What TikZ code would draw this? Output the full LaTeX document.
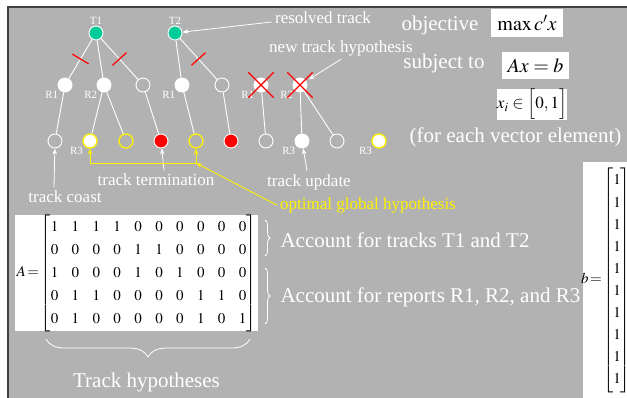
\documentclass[tikz,border=0pt]{standalone}
\usepackage{amsmath}
\usepackage{mathptmx}
\usepackage{fontspec}
\setmainfont{Liberation Serif}
\usetikzlibrary{arrows.meta,shapes.misc,decorations.pathreplacing}
\definecolor{slide}{RGB}{178,178,178}
\definecolor{trackgreen}{RGB}{0,204,153}
\tikzset{
  hyp/.style={circle,draw=white,line width=0.9pt,minimum size=14pt,inner sep=0pt},
  full/.style={hyp,fill=white},
  trk/.style={hyp,fill=trackgreen},
  term/.style={hyp,fill=red},
  best/.style={hyp,draw=yellow,line width=1.3pt},
  tag/.style={text=white,font=\fontsize{11}{11}\selectfont,inner sep=1pt},
  note/.style={text=white,font=\fontsize{17}{17}\selectfont},
  big/.style={text=white,font=\fontsize{21}{21}\selectfont},
  link/.style={white,line width=0.9pt},
  slash/.style={sloped,draw=red,line width=1.2pt,rectangle,minimum width=0pt,minimum height=19pt,inner sep=0pt},
  veto/.style={cross out,draw=red,line width=1.3pt,minimum size=24pt,inner sep=0pt},
  pointer/.style={white,line width=0.8pt,-{Stealth[length=6pt,width=4.5pt]}},
  goal/.style={yellow,line width=0.9pt},
  mathbox/.style={fill=white,text=black,inner sep=0pt},
  curly/.style={decorate,decoration={brace,amplitude=5pt},white,line width=0.8pt}
}
\begin{document}
\begin{tikzpicture}[x=1pt,y=-1pt]
  \useasboundingbox (0,0) rectangle (627,398);
  \fill[slide] (7,6) rectangle (627,398);
  \draw[black!75,line width=2pt] (8,398) -- (8,7) -- (627,7);

  \node[trk,label={[tag]above:T1}] (t1) at (96,33) {};
  \node[trk,label={[tag]above:T2}] (t2) at (175,33) {};

  \node[full,label={[tag]220:R1}] (r1a) at (65,85) {};
  \node[full,label={[tag]220:R2}] (r2a) at (104,85) {};
  \node[hyp] (ea) at (143,85) {};
  \node[full,label={[tag]220:R1}] (r1b) at (182,85) {};
  \node[hyp] (eb) at (222,85) {};
  \node[full,label={[tag]220:R1}] (r1c) at (261,85) {};
  \node[full,label={[tag]220:R2}] (r2c) at (300,85) {};
  \node[veto] (x1) at (r1c) {};
  \node[veto] (x2) at (r2c) {};

  \node[hyp] (h1) at (55,141) {};
  \node[best,fill=white,label={[tag]220:R3}] (h2) at (90,141) {};
  \node[best] (h3) at (126,141) {};
  \node[term] (h4) at (161,141) {};
  \node[best] (h5) at (196,141) {};
  \node[term] (h6) at (231,141) {};
  \node[hyp] (h7) at (266,141) {};
  \node[full,label={[tag]220:R3}] (h8) at (302,141) {};
  \node[hyp] (h9) at (337,141) {};
  \node[best,fill=white,label={[tag]220:R3}] (h10) at (379,141) {};

  \draw[link] (t1) -- node[slash] (s1) {} (r1a);
  \draw[link] (t1) -- (r2a);
  \draw[link] (t1) -- node[slash] (s2) {} (ea);
  \draw[link] (t2) -- (r1b);
  \draw[link] (t2) -- node[slash] (s3) {} (eb);
  \draw[link] (r1a) -- (h1);
  \draw[link] (r2a) -- (h2);
  \draw[link] (r2a) -- (h3);
  \draw[link] (ea) -- (h4);
  \draw[link] (r1b) -- (h5);
  \draw[link] (eb) -- (h6);
  \draw[link] (r1c) -- (h7);
  \draw[link] (r2c) -- (h8);
  \draw[link] (r2c) -- (h9);

  \node[note] (resolved) at (323,18) {resolved track};
  \node[note] (newhyp) at (341,48) {new track hypothesis};
  \node[note] (coast) at (65,197) {track coast};
  \node[note] (termination) at (156,180) {track termination};
  \node[note] (update) at (309,182) {track update};
  \node[note,text=yellow] (optimal) at (368,205) {optimal global hypothesis};

  \draw[pointer] ([yshift=-4pt]resolved.west) -- (t2);
  \draw[pointer,shorten >=3pt] (newhyp.south) -- (r2c);
  \draw[pointer] ([xshift=-11pt]coast.north) -- (h1);
  \draw[pointer] ([xshift=8pt]termination.north) -- (h4);
  \draw[pointer] ([xshift=-2pt]update.north) -- (h8);

  \coordinate (fork) at (196,163);
  \draw[goal,{Stealth[length=6pt,width=4.5pt]}-{Stealth[length=6pt,width=4.5pt]}] (h2) |- (fork) -- (h5);
  \draw[goal,-{Stealth[length=6pt,width=4.5pt]}] (optimal.west) -- (fork);

  \node[big] (objective) at (440,25) {objective};
  \node[mathbox,minimum width=72pt,minimum height=28pt] (maxbox) at (527,23)
    {\fontsize{20}{20}\selectfont$\max c'x$};
  \node[big] (subject) at (444,63) {subject to};
  \node[mathbox,minimum width=67pt,minimum height=27pt] (axbbox) at (535.5,65.5)
    {\fontsize{20}{20}\selectfont$Ax=b$};
  \node[mathbox,minimum width=60pt,minimum height=29pt] (xibox) at (532,104.5)
    {\fontsize{17}{17}\selectfont$x_i\in\Bigl[0,1\Bigr]$};
  \node[big] (foreach) at (515.5,137) {(for each vector element)};

  \node[mathbox,minimum width=243pt,minimum height=116pt] (amat) at (136.5,273)
    {\fontsize{15}{17}\selectfont\renewcommand\arraystretch{1.34}\setlength\arraycolsep{6.7pt}%
     $A\!=\!\begin{bmatrix}
       1&1&1&1&0&0&0&0&0&0\\
       0&0&0&0&1&1&0&0&0&0\\
       1&0&0&0&1&0&1&0&0&0\\
       0&1&1&0&0&0&0&1&1&0\\
       0&1&0&0&0&0&0&1&0&1
     \end{bmatrix}$};

  \draw[curly] (265,220) -- (265,256);
  \draw[curly] (265,268) -- (265,324);
  \node[big,anchor=west] (tracks) at (277,240) {Account for tracks T1 and T2};
  \node[big,anchor=west] (reports) at (277,297) {Account for reports R1, R2, and R3};

  \draw[curly,decoration={brace,amplitude=18pt}] (250,339) -- (46,339);
  \node[big] (hyps) at (146.5,382) {Track hypotheses};

  \fill[white] (583,162) rectangle (627,398);
  \node[inner sep=0pt] (bvec) at (606,280)
    {\fontsize{15}{17}\selectfont\renewcommand\arraystretch{1.3}%
     $b\!=\!\begin{bmatrix}1\\1\\1\\1\\1\\1\\1\\1\\1\\1\end{bmatrix}$};
\end{tikzpicture}
\end{document}
